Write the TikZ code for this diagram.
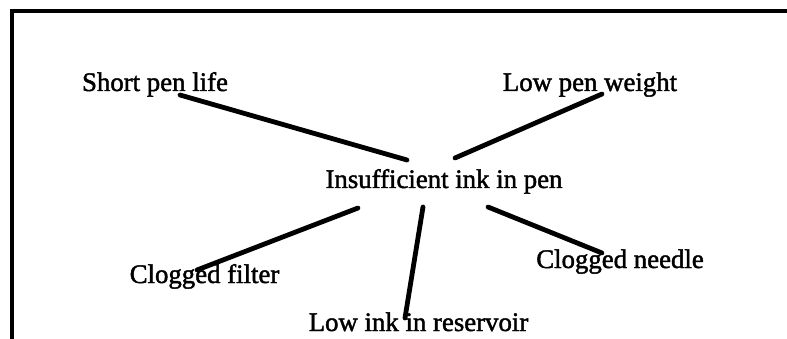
\documentclass[tikz,border=0pt]{standalone}
\usepackage{fontspec}
\setmainfont{Liberation Serif}
\newfontfamily\scanfont[FakeBold=1.6]{Liberation Serif}
\begin{document}
\begin{tikzpicture}[x=1pt,y=-1pt,
  lbl/.style={inner sep=0pt,anchor=base,font=\scanfont\fontsize{26.8}{32}\selectfont},
  conn/.style={line width=4.8pt,line cap=round},
  frame/.style={line width=4pt}]
\useasboundingbox (0,0) rectangle (787,339);
\fill[white] (0,0) rectangle (787,339);
\draw[frame] (12,339) -- (12,11) -- (787,11);
\node[lbl] (c) at (444,188) {Insufficient ink in pen};
\node[lbl] (spl) at (155,91) {Short pen life};
\node[lbl] (lpw) at (590,91) {Low pen weight};
\node[lbl] (cf) at (204.5,283) {Clogged filter};
\node[lbl] (lir) at (418.5,331) {Low ink in reservoir};
\node[lbl] (cn) at (620,268) {Clogged needle};
\draw[conn] ([shift={(-37,-28)}]c.base) -- ([shift={(25,4)}]spl.base);
\draw[conn] ([shift={(11,-30)}]c.base) -- ([shift={(12,3)}]lpw.base);
\draw[conn] ([shift={(-86,20)}]c.base) -- ([shift={(-7.5,-13)}]cf.base);
\draw[conn] ([shift={(-21,19)}]c.base) -- ([shift={(-13.5,-13)}]lir.base);
\draw[conn] ([shift={(44,19)}]c.base) -- ([shift={(-18,-15)}]cn.base);
\end{tikzpicture}
\end{document}
